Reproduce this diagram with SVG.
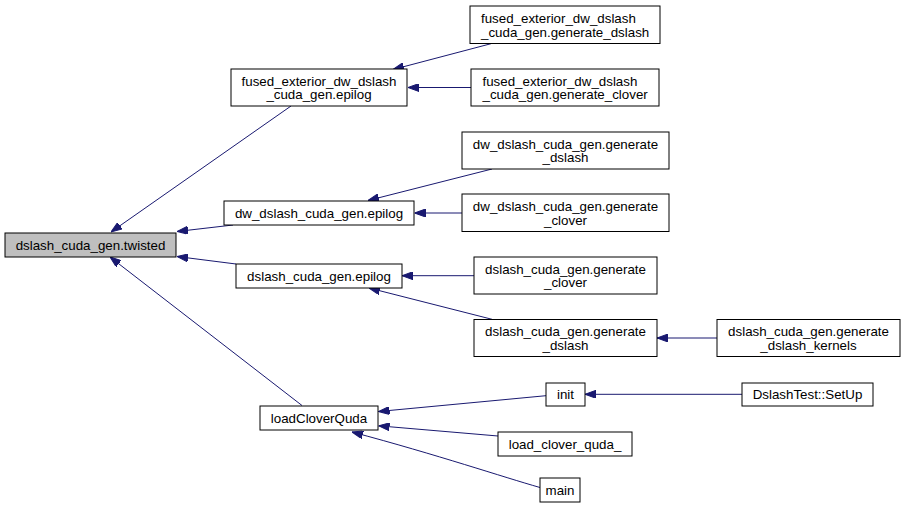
<svg xmlns="http://www.w3.org/2000/svg" width="904" height="511" viewBox="0 0 904 511">
<defs>
<style>
.n rect{fill:#fff;stroke:#000;stroke-width:1}
.n text{font-family:"Liberation Sans",Arial,Helvetica,sans-serif;font-size:13.33px;fill:#000;text-anchor:middle}
.n text.l{text-anchor:start}
#twisted rect{fill:#bfbfbf}
.e path{fill:none;stroke:#191970;stroke-width:1;marker-end:url(#ah)}
</style>
<marker id="ah" markerUnits="userSpaceOnUse" viewBox="0 0 11 8" refX="11" refY="4" markerWidth="11" markerHeight="8" orient="auto">
<path d="M0,0 L11,4 L0,8 z" fill="#191970" stroke="#191970" stroke-width="1"/>
</marker>
</defs>
<rect width="904" height="511" fill="#fff"/>
<g id="edges" class="e">
<path d="M291,106 L111,232"/>
<path d="M233,225 L177,231.5"/>
<path d="M236,264 L177,256.5"/>
<path d="M302,405.5 L110,257"/>
<path d="M491,43.7 L393,69.5"/>
<path d="M471,87.5 L408,87.5"/>
<path d="M492,169 L368,200.5"/>
<path d="M462,213 L414.5,213"/>
<path d="M474,275.7 L402,275.7"/>
<path d="M492,319.3 L369,288"/>
<path d="M717,338 L657,338"/>
<path d="M742,394.3 L585,394.3"/>
<path d="M546,395.7 L378.5,411.5"/>
<path d="M498,436 L378.5,425.8"/>
<path d="M540,487.5 C503,477 438,455 352,432"/>
</g>
<g id="twisted" class="n"><rect x="5" y="233" width="171" height="24"/><text x="90.5" y="249.5">dslash_cuda_gen.twisted</text></g>
<g id="fused_epilog" class="n"><rect x="231" y="69" width="176" height="37"/><text x="319" y="85.7">fused_exterior_dw_dslash</text><text x="319" y="99.2">_cuda_gen.epilog</text></g>
<g id="dw_epilog" class="n"><rect x="224" y="201" width="190" height="24"/><text x="319" y="217.5">dw_dslash_cuda_gen.epilog</text></g>
<g id="dslash_epilog" class="n"><rect x="236" y="264" width="166" height="24"/><text x="319" y="280.5">dslash_cuda_gen.epilog</text></g>
<g id="loadCloverQuda" class="n"><rect x="260" y="406" width="118" height="24"/><text x="319" y="422.5">loadCloverQuda</text></g>
<g id="fused_gen_dslash" class="n"><rect x="470" y="6" width="190" height="37.5"/><text class="l" x="481" y="23">fused_exterior_dw_dslash</text><text class="l" x="481" y="36.5">_cuda_gen.generate_dslash</text></g>
<g id="fused_gen_clover" class="n"><rect x="471" y="69" width="188" height="37"/><text class="l" x="482.5" y="85.7">fused_exterior_dw_dslash</text><text class="l" x="482.5" y="99.2">_cuda_gen.generate_clover</text></g>
<g id="dw_gen_dslash" class="n"><rect x="462" y="132" width="207" height="37"/><text x="565.5" y="148.7">dw_dslash_cuda_gen.generate</text><text x="565.5" y="162.2">_dslash</text></g>
<g id="dw_gen_clover" class="n"><rect x="462" y="194" width="207" height="37.5"/><text x="565.5" y="211">dw_dslash_cuda_gen.generate</text><text x="565.5" y="224.5">_clover</text></g>
<g id="dslash_gen_clover" class="n"><rect x="474" y="257" width="183" height="37"/><text x="565.5" y="273.7">dslash_cuda_gen.generate</text><text x="565.5" y="287.2">_clover</text></g>
<g id="dslash_gen_dslash" class="n"><rect x="474" y="319.5" width="183" height="37"/><text x="565.5" y="336.2">dslash_cuda_gen.generate</text><text x="565.5" y="349.7">_dslash</text></g>
<g id="dslash_kernels" class="n"><rect x="717" y="319.5" width="183" height="37"/><text x="808.5" y="336.2">dslash_cuda_gen.generate</text><text x="808.5" y="349.7">_dslash_kernels</text></g>
<g id="init" class="n"><rect x="546" y="383" width="39" height="23"/><text x="565.5" y="399">init</text></g>
<g id="setup" class="n"><rect x="742" y="383" width="131" height="23"/><text x="807.5" y="399">DslashTest::SetUp</text></g>
<g id="load_clover_quda_" class="n"><rect x="498" y="432" width="134" height="24"/><text x="565" y="448.5">load_clover_quda_</text></g>
<g id="main" class="n"><rect x="540" y="478" width="40" height="24"/><text x="560" y="494.5">main</text></g>
</svg>
